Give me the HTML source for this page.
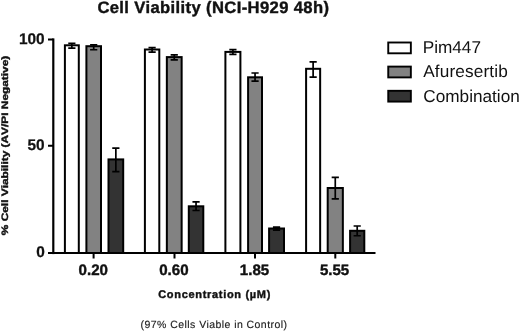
<!DOCTYPE html>
<html><head><meta charset="utf-8"><title>Cell Viability</title>
<style>
html,body{margin:0;padding:0;background:#fff;}
body{width:520px;height:331px;overflow:hidden;font-family:"Liberation Sans",sans-serif;}
svg{display:block;will-change:transform;opacity:0.999}
text{font-family:"Liberation Sans",sans-serif;fill:#111;text-rendering:geometricPrecision}
.b{font-weight:bold;stroke:#111;stroke-width:0.4px}
</style></head><body>
<svg width="520" height="331" viewBox="0 0 520 331">
<rect width="520" height="331" fill="#fff"/>
<text class="b" x="97.4" y="12.9" font-size="16.6" textLength="231.6" lengthAdjust="spacing">Cell Viability (NCI-H929 48h)</text>
<rect x="64.90" y="45.30" width="13.90" height="207.70" fill="#ffffff" stroke="#000" stroke-width="2.0"/>
<path d="M71.85 43.40V48.10M68.25 43.40H75.45M68.25 48.10H75.45" stroke="#000" stroke-width="1.7" fill="none"/>
<rect x="86.40" y="46.20" width="14.60" height="206.80" fill="#828282" stroke="#000" stroke-width="2.0"/>
<path d="M93.70 44.90V49.75M90.10 44.90H97.30M90.10 49.75H97.30" stroke="#000" stroke-width="1.7" fill="none"/>
<rect x="108.50" y="159.40" width="14.70" height="93.60" fill="#333333" stroke="#000" stroke-width="2.0"/>
<path d="M115.85 148.10V171.70M112.25 148.10H119.45M112.25 171.70H119.45" stroke="#000" stroke-width="1.7" fill="none"/>
<rect x="144.90" y="49.50" width="14.40" height="203.50" fill="#ffffff" stroke="#000" stroke-width="2.0"/>
<path d="M152.10 47.70V52.10M148.50 47.70H155.70M148.50 52.10H155.70" stroke="#000" stroke-width="1.7" fill="none"/>
<rect x="166.85" y="57.10" width="14.80" height="195.90" fill="#828282" stroke="#000" stroke-width="2.0"/>
<path d="M174.25 54.90V59.80M170.65 54.90H177.85M170.65 59.80H177.85" stroke="#000" stroke-width="1.7" fill="none"/>
<rect x="188.80" y="206.30" width="14.50" height="46.70" fill="#333333" stroke="#000" stroke-width="2.0"/>
<path d="M196.05 201.80V210.50M192.45 201.80H199.65M192.45 210.50H199.65" stroke="#000" stroke-width="1.7" fill="none"/>
<rect x="225.40" y="51.90" width="15.00" height="201.10" fill="#ffffff" stroke="#000" stroke-width="2.0"/>
<path d="M232.90 49.60V54.40M229.30 49.60H236.50M229.30 54.40H236.50" stroke="#000" stroke-width="1.7" fill="none"/>
<rect x="248.10" y="77.30" width="13.90" height="175.70" fill="#828282" stroke="#000" stroke-width="2.0"/>
<path d="M255.05 73.00V81.10M251.45 73.00H258.65M251.45 81.10H258.65" stroke="#000" stroke-width="1.7" fill="none"/>
<rect x="269.10" y="228.50" width="14.90" height="24.50" fill="#333333" stroke="#000" stroke-width="2.0"/>
<path d="M276.55 227.20V230.20M272.95 227.20H280.15M272.95 230.20H280.15" stroke="#000" stroke-width="1.7" fill="none"/>
<rect x="306.10" y="68.80" width="14.05" height="184.20" fill="#ffffff" stroke="#000" stroke-width="2.0"/>
<path d="M313.12 61.85V77.10M309.52 61.85H316.73M309.52 77.10H316.73" stroke="#000" stroke-width="1.7" fill="none"/>
<rect x="327.70" y="188.00" width="15.15" height="65.00" fill="#828282" stroke="#000" stroke-width="2.0"/>
<path d="M335.27 177.45V198.90M331.67 177.45H338.88M331.67 198.90H338.88" stroke="#000" stroke-width="1.7" fill="none"/>
<rect x="350.10" y="230.80" width="14.20" height="22.20" fill="#333333" stroke="#000" stroke-width="2.0"/>
<path d="M357.20 226.00V235.75M353.60 226.00H360.80M353.60 235.75H360.80" stroke="#000" stroke-width="1.7" fill="none"/>
<path d="M53.3 38.4V254.1" stroke="#000" stroke-width="2.2"/>
<path d="M48.0 253.0H375.5" stroke="#000" stroke-width="2.2"/>
<path d="M48.0 39.4H53.3M48.0 145.8H53.3" stroke="#000" stroke-width="2"/>
<path d="M93.60 253.0V258.5" stroke="#000" stroke-width="2"/>
<path d="M174.50 253.0V258.5" stroke="#000" stroke-width="2"/>
<path d="M255.00 253.0V258.5" stroke="#000" stroke-width="2"/>
<path d="M335.30 253.0V258.5" stroke="#000" stroke-width="2"/>
<text class="b" x="44.7" y="43.8" font-size="15.4" text-anchor="end" style="stroke-width:0.25px">100</text>
<text class="b" x="44.7" y="150.4" font-size="15.4" text-anchor="end" style="stroke-width:0.25px">50</text>
<text class="b" x="44.7" y="256.9" font-size="15.4" text-anchor="end" style="stroke-width:0.25px">0</text>
<text class="b" x="93.3" y="274.8" font-size="15.1" text-anchor="middle">0.20</text>
<text class="b" x="173.9" y="274.8" font-size="15.1" text-anchor="middle">0.60</text>
<text class="b" x="254.5" y="274.8" font-size="15.1" text-anchor="middle">1.85</text>
<text class="b" x="334.6" y="274.8" font-size="15.1" text-anchor="middle">5.55</text>
<text class="b" x="158.2" y="297.6" font-size="11" textLength="112.2" lengthAdjust="spacing">Concentration (µM)</text>
<text x="140.6" y="327.5" font-size="10.5" textLength="146.4" lengthAdjust="spacing" style="fill:#222;stroke:#222;stroke-width:0.15px">(97% Cells Viable in Control)</text>
<text class="b" transform="translate(8.4 235.2) rotate(-90) scale(1.277 1)" font-size="9.3" style="font-kerning:none">% Cell Viability (AV/PI Negative)</text>
<rect x="388.25" y="42.5" width="22.6" height="10.8" fill="#fff" stroke="#000" stroke-width="1.9"/>
<rect x="388.25" y="66.6" width="22.6" height="10.8" fill="#828282" stroke="#000" stroke-width="1.9"/>
<rect x="388.25" y="90.8" width="22.6" height="10.8" fill="#333" stroke="#000" stroke-width="1.9"/>
<text x="422.7" y="52.6" font-size="17.2">Pim447</text>
<text x="423.2" y="76.7" font-size="17.2" textLength="84.6" lengthAdjust="spacing">Afuresertib</text>
<text x="423.3" y="101.9" font-size="17.2">Combination</text>
</svg>
</body></html>
